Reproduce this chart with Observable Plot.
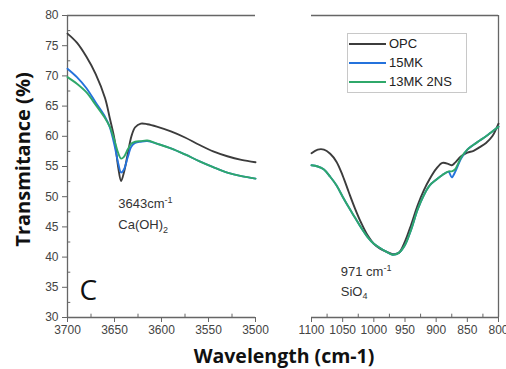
<!DOCTYPE html>
<html><head><meta charset="utf-8">
<script src="https://cdn.jsdelivr.net/npm/d3@7"></script>
<script src="https://cdn.jsdelivr.net/npm/@observablehq/plot@0.6"></script>
<style>
body{margin:0;background:#fff;}
#wrap{position:relative;width:506px;height:369px;overflow:hidden;font-family:"Liberation Sans",Arial,sans-serif;}
#left,#right{position:absolute;top:0;}
#left{left:0;} #right{left:260px;}
#xtitle{position:absolute;left:0;width:568px;top:342px;line-height:normal;text-align:center;font:bold 19.5px "Open Sans",sans-serif;color:#111;}
#legend{position:absolute;left:347px;top:33px;width:118px;height:58px;border:1px solid #c8c8c8;background:#fff;font:13px "Liberation Sans",Arial,sans-serif;color:#222;}
#legend .row{position:absolute;left:0;height:16px;}
#legend .sw{position:absolute;left:1px;width:37px;height:2px;top:7px;}
#legend .lb{position:absolute;left:41px;top:0;white-space:nowrap;}
</style></head>
<body>
<div id="wrap">
<div id="left"></div><div id="right"></div>
<div id="xtitle">Wavelength (cm-1)</div>
<div id="legend"></div>
</div>
<script>
// ---- data ----
const seriesNames = ["OPC", "15MK", "13MK 2NS"];
const seriesColors = ["#3c3c3c", "#2472dc", "#2fa86a"];

const leftWave = [3700,3690,3680,3670,3660,3655,3650,3646,3643,3640,3636,3632,3628,3622,3615,3605,3590,3575,3560,3545,3530,3515,3500];
const opcLeft  = [77.0,75.5,73.2,70.3,66.3,63.0,59.5,54.8,52.6,54.0,57.0,60.0,61.5,62.1,62.0,61.6,60.8,59.8,58.6,57.5,56.7,56.1,55.7];
const mk15Left = [71.2,69.8,68.0,65.6,63.2,61.5,58.5,55.5,54.0,54.5,56.5,58.3,58.9,59.1,59.2,58.8,58.0,57.0,55.9,54.9,54.0,53.4,53.0];
const ns13Left = [69.8,68.7,67.3,65.2,63.0,61.6,59.3,57.2,56.3,56.6,57.8,58.8,59.1,59.2,59.3,58.8,58.0,57.0,55.9,54.9,54.0,53.4,53.0];

const rightWave = [1100,1090,1080,1070,1060,1050,1040,1030,1020,1010,1000,990,980,970,960,950,940,930,920,910,900,890,880,875,870,860,850,840,830,820,810,800];
const opcRight  = [57.2,57.8,57.8,57.1,55.8,53.5,50.7,48.0,45.6,43.6,42.2,41.4,40.9,40.5,40.7,42.6,45.4,48.5,51.0,53.0,54.6,55.6,55.4,55.2,55.6,56.7,57.3,57.6,58.2,58.9,60.0,62.1];
const mk15Right = [55.2,55.0,54.5,53.3,51.9,50.0,48.2,46.5,44.8,43.3,42.2,41.5,40.9,40.4,40.7,42.0,44.6,47.8,50.2,51.9,52.8,53.6,54.1,53.2,54.0,56.3,57.8,58.6,59.3,60.0,60.8,61.6];
const ns13Right = [55.2,55.0,54.5,53.3,51.9,50.0,48.2,46.5,44.8,43.3,42.2,41.5,40.9,40.4,40.7,42.0,44.6,47.8,50.2,51.9,52.8,53.6,54.2,54.2,54.5,56.5,57.8,58.6,59.3,60.0,60.8,61.6];

const yTicks = [30,35,40,45,50,55,60,65,70,75,80];
const yMinor = [32.5,37.5,42.5,47.5,52.5,57.5,62.5,67.5,72.5,77.5];
const leftXTicks = [3700,3650,3600,3550,3500];
const leftXMinor = [3675,3625,3575,3525];
const rightXTicks = [1100,1050,1000,950,900,850,800];
const rightXMinor = [1075,1025,975,925,875,825];

const yLabel = "Transmitance (%)";
const annotations = {
  left: [{w:3646, v:48.8, t:"3643cm", sup:"-1"}, {w:3646, v:45.3, t:"Ca(OH)", sub:"2"}],
  right:[{w:1053, v:37.6, t:"971 cm", sup:"-1"}, {w:1053, v:34.3, t:"SiO", sub:"4"}]
};

function toRows(wave, arrs){
  const rows=[];
  arrs.forEach((a,i)=>a.forEach((v,j)=>rows.push({w:wave[j], v, s:seriesNames[i]})));
  return rows;
}
const leftRows = toRows(leftWave,[opcLeft,mk15Left,ns13Left]);
const rightRows = toRows(rightWave,[opcRight,mk15Right,ns13Right]);

const frameColor = "#666";
const tickFont = {fontSize: 12, fill:"#444"};

function lines(rows){
  return seriesNames.map((n,i)=>Plot.line(rows.filter(r=>r.s===n),{x:"w",y:"v",stroke:seriesColors[i],strokeWidth:1.9,curve:"catmull-rom"}));
}
function annot(list){
  return Plot.text(list,{x:"w",y:"v",text:"t",textAnchor:"start",fontSize:13,fill:"#333",fontFamily:"Liberation Sans, Arial, sans-serif"});
}

const leftPlot = Plot.plot({
  width:260, height:369, marginLeft:67, marginRight:5, marginTop:15, marginBottom:52,
  style:{fontFamily:"Liberation Sans, Arial, sans-serif", background:"transparent", overflow:"visible"},
  x:{domain:[3700,3500]}, y:{domain:[30,80]},
  marks:[
    Plot.ruleY([80],{stroke:frameColor,strokeWidth:1.3}),
    Plot.ruleY([30],{stroke:frameColor,strokeWidth:1.3}),
    Plot.ruleX([3700],{stroke:frameColor,strokeWidth:1.3}),
    Plot.ruleX(leftXMinor,{y1:30,y2:30.55,stroke:frameColor}),
    Plot.ruleY(yMinor,{x1:3700,x2:3696.5,stroke:frameColor}),
    Plot.axisY({ticks:yTicks, tickSize:5, tickPadding:4, label:null, stroke:frameColor, ...tickFont}),
    Plot.axisX({ticks:leftXTicks, tickSize:5, tickPadding:3, tickFormat:d=>String(d), label:null, stroke:frameColor, ...tickFont}),
    ...lines(leftRows),
    annot(annotations.left),
    Plot.text(["C"],{frameAnchor:"bottom-left", dx:12, dy:-18, text:d=>d, fontSize:28, fill:"#111", fontFamily:"Open Sans, sans-serif", textAnchor:"start", lineAnchor:"bottom"}),
    Plot.text([yLabel],{frameAnchor:"left", dx:-43.5, dy:-7, rotate:-90, text:d=>d, textAnchor:"middle", lineAnchor:"middle", fontSize:20, fontWeight:"bold", fill:"#111", fontFamily:"Open Sans, sans-serif"})
  ]
});

const rightPlot = Plot.plot({
  width:246, height:369, marginLeft:51, marginRight:8, marginTop:15, marginBottom:52,
  style:{fontFamily:"Liberation Sans, Arial, sans-serif", background:"transparent", overflow:"visible"},
  x:{domain:[1100,800]}, y:{domain:[30,80], axis:null},
  marks:[
    Plot.ruleY([80],{stroke:frameColor,strokeWidth:1.3}),
    Plot.ruleY([30],{stroke:frameColor,strokeWidth:1.3}),
    Plot.ruleX([800],{stroke:frameColor,strokeWidth:1.3}),
    Plot.ruleX(rightXMinor,{y1:30,y2:30.55,stroke:frameColor}),
    Plot.axisX({ticks:rightXTicks, tickSize:5, tickPadding:3, tickFormat:d=>String(d), label:null, stroke:frameColor, ...tickFont}),
    ...lines(rightRows),
    annot(annotations.right)
  ]
});

// add super/subscripts as tspans
function addScripts(svg, list){
  d3.select(svg).selectAll("text").each(function(){
    const el=this; const txt=el.textContent;
    const a=list.find(x=>x.t===txt);
    if(!a) return;
    const s=d3.select(el);
    if(a.sup) s.append("tspan").attr("font-size",9).attr("dy","-0.55em").text(a.sup);
    if(a.sub) s.append("tspan").attr("font-size",9).attr("dy","0.4em").text(a.sub);
  });
}
addScripts(leftPlot, annotations.left);
addScripts(rightPlot, annotations.right);

document.getElementById("left").appendChild(leftPlot);
document.getElementById("right").appendChild(rightPlot);

// legend
const lg=document.getElementById("legend");
seriesNames.forEach((n,i)=>{
  const r=document.createElement("div"); r.className="row"; r.style.top=(2+i*19)+"px"; r.style.width="118px";
  const sw=document.createElement("div"); sw.className="sw"; sw.style.background=seriesColors[i];
  const lb=document.createElement("div"); lb.className="lb"; lb.textContent=n;
  r.appendChild(sw); r.appendChild(lb); lg.appendChild(r);
});
</script>
</body></html>
